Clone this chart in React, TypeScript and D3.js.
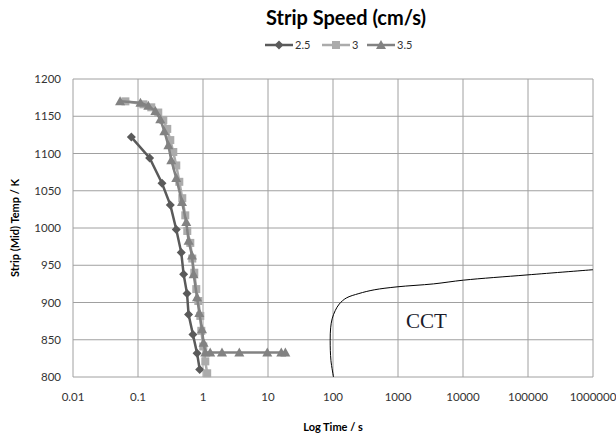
import React from 'react';
import * as d3 from 'd3';

// strip speed series, time in s, temperature in K
const speedLabels = ['2.5', '3', '3.5'];

const time25 = [0.079, 0.151, 0.234, 0.314, 0.388, 0.463, 0.503, 0.568, 0.6, 0.7, 0.81, 0.89];
const temp25 = [1122, 1094, 1060, 1031, 998, 967, 938, 912, 884, 857, 832, 810];

const time3 = [0.064, 0.121, 0.16, 0.205, 0.245, 0.282, 0.314, 0.349, 0.388, 0.432, 0.48, 0.534,
  0.573, 0.638, 0.684, 0.735, 0.788, 0.847, 0.909, 0.942, 1.01, 1.085, 1.16];
const temp3 = [1170, 1166, 1162, 1155, 1145, 1133, 1118, 1102, 1084, 1062, 1040, 1017,
  996, 980, 959, 940, 918, 902, 882, 862, 841, 821, 805];

const time35 = [0.053, 0.109, 0.144, 0.185, 0.22, 0.254, 0.293, 0.325, 0.388, 0.475, 0.553, 0.6,
  0.677, 0.717, 0.809, 0.877, 0.965, 1.02, 1.085, 1.29, 1.96, 3.62, 9.75, 16, 18.5];
const temp35 = [1170, 1168, 1164, 1157, 1146, 1130, 1111, 1091, 1067, 1035, 1008, 983,
  963, 938, 907, 886, 864, 846, 833, 833, 833, 833, 833, 833, 833];

// CCT curve
const cctTime = [102, 93, 90.5, 92, 97, 108, 125, 160, 250, 430, 966, 3530, 10200, 96600, 1000000];
const cctTemp = [800, 822, 849, 866, 878, 889, 898, 906, 912, 917, 921, 925, 930, 937, 944];

const xTicks = [0.01, 0.1, 1, 10, 100, 1000, 10000, 100000, 1000000];
const yTicks = [800, 850, 900, 950, 1000, 1050, 1100, 1150, 1200];

const width = 616;
const height = 437;
const margin = { top: 79, right: 23, bottom: 60, left: 73 };

const font = 'Lato, "Liberation Sans", sans-serif';

function Marker({ kind, x, y, color }: { kind: string; x: number; y: number; color: string }) {
  if (kind === 'diamond') {
    return <path d={`M${x},${y - 4.5}L${x + 4.5},${y}L${x},${y + 4.5}L${x - 4.5},${y}Z`} fill={color} />;
  }
  if (kind === 'square') {
    return <rect x={x - 4} y={y - 4} width={8} height={8} fill={color} />;
  }
  return <path d={`M${x},${y - 5}L${x + 5},${y + 4}L${x - 5},${y + 4}Z`} fill={color} />;
}

export default function App() {
  const x = d3
    .scaleLog()
    .domain([0.01, 1000000])
    .range([margin.left, width - margin.right]);
  const y = d3
    .scaleLinear()
    .domain([800, 1200])
    .range([height - margin.bottom, margin.top]);

  const series = [
    { label: speedLabels[0], times: time25, temps: temp25, color: '#5a5a5a', kind: 'diamond' },
    { label: speedLabels[1], times: time3, temps: temp3, color: '#ababab', kind: 'square' },
    { label: speedLabels[2], times: time35, temps: temp35, color: '#828282', kind: 'triangle' },
  ];

  const line = d3
    .line<[number, number]>()
    .x((d) => x(d[0]))
    .y((d) => y(d[1]));

  const cctLine = d3
    .line<[number, number]>()
    .x((d) => x(d[0]))
    .y((d) => y(d[1]))
    .curve(d3.curveCatmullRom);

  const x0 = margin.left;
  const x1 = width - margin.right;
  const y0 = height - margin.bottom;
  const y1 = margin.top;

  // legend layout
  const legendX = [265, 322, 367];
  const legendY = 45;

  const tickText = (t: number) => (t < 1 ? String(t) : d3.format('d')(t));

  return (
    <svg width={width} height={height} style={{ position: 'absolute', left: 0, top: 0, background: '#fff' }}>
      <rect width={width} height={height} fill="#fff" />
      <text x={346} y={25} textAnchor="middle" fontFamily={font} fontWeight="bold" fontSize={20} fill="#000">
        Strip Speed (cm/s)
      </text>

      {series.map((s, i) => (
        <g key={s.label}>
          <line x1={legendX[i]} x2={legendX[i] + 28} y1={legendY} y2={legendY} stroke={s.color} strokeWidth={2.5} />
          <Marker kind={s.kind} x={legendX[i] + 14} y={legendY} color={s.color} />
          <text x={legendX[i] + 30} y={legendY + 4} fontFamily={font} fontSize={11} fill="#333">
            {s.label}
          </text>
        </g>
      ))}

      {/* grid */}
      {xTicks.map((t) => (
        <line key={'gx' + t} x1={x(t)} x2={x(t)} y1={y1} y2={y0} stroke="#a0a0a0" strokeWidth={1} />
      ))}
      {yTicks.map((t) => (
        <line key={'gy' + t} x1={x0} x2={x1} y1={y(t)} y2={y(t)} stroke="#a0a0a0" strokeWidth={1} />
      ))}

      {/* tick labels */}
      {yTicks.map((t) => (
        <text key={'ly' + t} x={61} y={y(t) + 4} textAnchor="end" fontFamily={font} fontSize={11.5} fill="#333">
          {t}
        </text>
      ))}
      {xTicks.map((t) => (
        <text key={'lx' + t} x={x(t)} y={401} textAnchor="middle" fontFamily={font} fontSize={11.5} fill="#333">
          {tickText(t)}
        </text>
      ))}

      <text x={333} y={431} textAnchor="middle" fontFamily={font} fontWeight="bold" fontSize={11} fill="#000">
        Log Time / s
      </text>
      <text
        transform={`translate(19,${(y0 + y1) / 2}) rotate(-90)`}
        textAnchor="middle"
        fontFamily={font}
        fontWeight="bold"
        fontSize={11}
        fill="#000"
      >
        Strip (Mid) Temp / K
      </text>

      {/* CCT curve */}
      <path
        d={cctLine(cctTime.map((t, i) => [t, cctTemp[i]] as [number, number])) || ''}
        fill="none"
        stroke="#000"
        strokeWidth={1}
      />
      <text x={406} y={328} fontFamily='"Liberation Serif", serif' fontSize={21} fill="#1a1a2a">
        CCT
      </text>

      {/* series */}
      {series.map((s) => {
        const pts = s.times.map((t, i) => [t, s.temps[i]] as [number, number]);
        return (
          <g key={'s' + s.label}>
            <path d={line(pts) || ''} fill="none" stroke={s.color} strokeWidth={2.5} />
            {pts.map((p, i) => (
              <Marker key={i} kind={s.kind} x={x(p[0])} y={y(p[1])} color={s.color} />
            ))}
          </g>
        );
      })}
    </svg>
  );
}
